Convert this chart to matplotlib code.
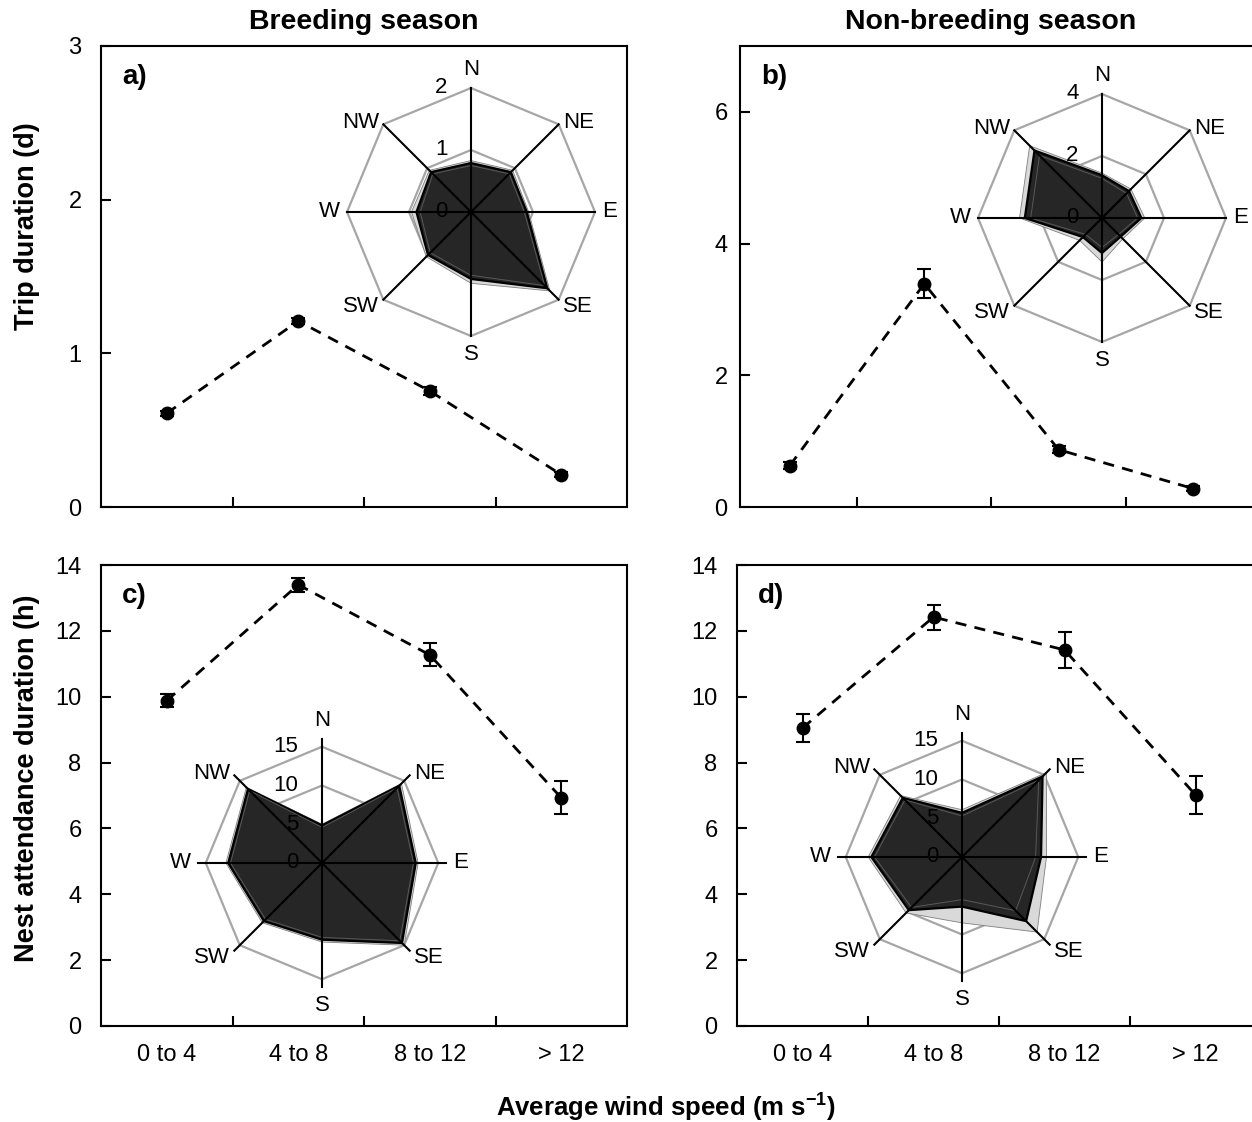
import numpy as np
import matplotlib
matplotlib.use("Agg")
import matplotlib.pyplot as plt

plt.rcParams['font.family'] = ['Liberation Sans', 'DejaVu Sans']
plt.rcParams['mathtext.fontset'] = 'custom'
plt.rcParams['mathtext.rm'] = 'Liberation Sans'
plt.rcParams['mathtext.bf'] = 'Liberation Sans:bold'

# wind speed classes
categories = ['0 to 4', '4 to 8', '8 to 12', '> 12']
directions = ['N', 'NE', 'E', 'SE', 'S', 'SW', 'W', 'NW']

# a) trip duration, breeding
trip_breed = [0.61, 1.21, 0.755, 0.21]
trip_breed_err = [0.015, 0.02, 0.025, 0.015]
# b) trip duration, non-breeding
trip_non = [0.63, 3.39, 0.87, 0.28]
trip_non_err = [0.05, 0.22, 0.05, 0.04]
# c) nest attendance, breeding
nest_breed = [9.88, 13.4, 11.27, 6.93]
nest_breed_err = [0.2, 0.22, 0.35, 0.5]
# d) nest attendance, non-breeding
nest_non = [9.05, 12.42, 11.42, 7.02]
nest_non_err = [0.42, 0.38, 0.55, 0.57]

# radar insets: mean, upper and lower bound per wind direction
radar_a_mean = [0.79, 0.91, 0.90, 1.74, 1.08, 0.98, 0.88, 0.91]
radar_a_up = [0.83, 0.95, 0.93, 1.80, 1.15, 1.02, 0.96, 0.95]
radar_a_low = [0.75, 0.87, 0.86, 1.68, 1.02, 0.93, 0.82, 0.87]

radar_b_mean = [1.38, 1.23, 1.27, 0.85, 1.13, 0.87, 2.49, 3.08]
radar_b_up = [1.45, 1.32, 1.38, 0.95, 1.42, 1.02, 2.66, 3.30]
radar_b_low = [1.28, 1.12, 1.15, 0.75, 0.95, 0.75, 2.30, 2.85]

radar_c_mean = [4.85, 14.1, 12.1, 14.6, 9.9, 10.6, 12.1, 13.5]
radar_c_up = [5.0, 14.5, 12.4, 15.0, 10.2, 10.9, 12.4, 13.8]
radar_c_low = [4.6, 13.7, 11.8, 14.2, 9.6, 10.3, 11.8, 13.2]

radar_d_mean = [5.7, 14.7, 10.2, 11.7, 6.4, 9.7, 11.7, 10.8]
radar_d_up = [6.1, 15.4, 10.9, 13.7, 8.5, 10.2, 12.1, 11.2]
radar_d_low = [5.3, 14.0, 9.5, 9.8, 5.5, 9.2, 11.3, 10.4]

W, H = 1252, 1122
fig = plt.figure(figsize=(W / 100, H / 100), dpi=100)


def px_axes(left, top, right, bottom):
    return fig.add_axes([left / W, 1 - bottom / H, (right - left) / W, (bottom - top) / H])


def line_panel(ax, vals, errs, ylim, yticks, xlim, letter, show_x, ypad):
    x = np.arange(len(vals)) + 0.5
    ax.plot(x, vals, ls=(0, (4, 3)), color='black', lw=2, zorder=2)
    ax.errorbar(x, vals, yerr=errs, fmt='o', color='black', ms=9,
                capsize=5, elinewidth=1.5, capthick=1.5, zorder=3)
    ax.set_ylim(*ylim)
    ax.set_yticks(yticks)
    ax.set_xlim(*xlim)
    ax.set_xticks([1, 2, 3])
    ax.set_xticklabels([])
    if show_x:
        ax.set_xticks(x, minor=True)
        ax.set_xticklabels(categories, minor=True)
    ax.tick_params(axis='x', which='minor', length=0, labelsize=17, pad=13)
    ax.tick_params(axis='both', which='major', direction='in', length=7,
                   width=1.5, labelsize=17)
    ax.tick_params(axis='y', pad=ypad)
    for s in ax.spines.values():
        s.set_linewidth(1.5)
    ax.annotate(letter, (0, 1), xycoords='axes fraction', xytext=(15, -22),
                textcoords='offset points', fontsize=20, fontweight='bold',
                ha='left', va='center')


def radar(cx, cy, mean, up, low, rings, ring_labels, rmax):
    size = 330
    ax = px_axes(cx - size / 2, cy - size / 2, cx + size / 2, cy + size / 2)
    ax.set_axis_off()
    lim = rmax * (size / 2) / 124
    ax.set_xlim(-lim, lim)
    ax.set_ylim(-lim, lim)
    ang = np.deg2rad(90 - 45 * np.arange(8))
    ca, sa = np.cos(ang), np.sin(ang)
    cl = np.append(ca, ca[0])
    sl = np.append(sa, sa[0])
    for r in rings:
        ax.plot(r * cl, r * sl, color='#a6a6a6', lw=1.6, zorder=1)
    up_c = np.append(up, up[0])
    mean_c = np.append(mean, mean[0])
    low_c = np.append(low, low[0])
    ax.fill(up_c * cl, up_c * sl, facecolor='#d9d9d9', edgecolor='#7f7f7f', lw=0.6, zorder=2)
    ax.fill(mean_c * cl, mean_c * sl, facecolor='#262626', edgecolor='black', lw=1.6, zorder=3)
    ax.plot(low_c * cl, low_c * sl, color='#595959', lw=0.7, zorder=4)
    for c, s in zip(ca, sa):
        ax.plot([0, rmax * c], [0, rmax * s], color='black', lw=1.5, zorder=5)
    offsets = {
        'N': ((0, 13), 'center', 'center'),
        'NE': ((3, 1), 'left', 'center'),
        'E': ((5, 0), 'left', 'center'),
        'SE': ((3, -5), 'left', 'center'),
        'S': ((0, -13), 'center', 'center'),
        'SW': ((-3, -5), 'right', 'center'),
        'W': ((-5, 0), 'right', 'center'),
        'NW': ((-3, 1), 'right', 'center'),
    }
    for d, c, s in zip(directions, ca, sa):
        off, ha, va = offsets[d]
        ax.annotate(d, (rmax * c, rmax * s), xytext=off, textcoords='offset points',
                    ha=ha, va=va, fontsize=16, zorder=6)
    for v in ring_labels:
        ax.annotate(str(v), (0, v), xytext=(-17, 0), textcoords='offset points',
                    ha='right', va='center', fontsize=16, zorder=6)


ax_a = px_axes(101, 46, 627, 507)
line_panel(ax_a, trip_breed, trip_breed_err, (0, 3), [0, 1, 2, 3], (0, 4), 'a)', False, 14)
ax_b = px_axes(740, 46, 1267, 507)
line_panel(ax_b, trip_non, trip_non_err, (0, 7), [0, 2, 4, 6], (0.129, 4.05), 'b)', False, 9)
ax_c = px_axes(101, 565, 627, 1026)
line_panel(ax_c, nest_breed, nest_breed_err, (0, 14), range(0, 15, 2), (0, 4), 'c)', True, 14)
ax_d = px_axes(737, 565, 1261, 1026)
line_panel(ax_d, nest_non, nest_non_err, (0, 14), range(0, 15, 2), (0, 4), 'd)', True, 14)

radar(471, 212, radar_a_mean, radar_a_up, radar_a_low, [1, 2], [0, 1, 2], 2)
radar(1102, 218, radar_b_mean, radar_b_up, radar_b_low, [2, 4], [0, 2, 4], 4)
radar(322, 863, radar_c_mean, radar_c_up, radar_c_low, [5, 10, 15], [0, 5, 10, 15], 16)
radar(962, 857, radar_d_mean, radar_d_up, radar_d_low, [5, 10, 15], [0, 5, 10, 15], 16)

fig.text(364 / W, 1 - 22 / H, 'Breeding season', ha='center', va='center',
         fontsize=20.5, fontweight='bold')
fig.text(991 / W, 1 - 22 / H, 'Non-breeding season', ha='center', va='center',
         fontsize=20.5, fontweight='bold')
fig.text(27 / W, 1 - 226 / H, 'Trip duration (d)', rotation=90, ha='center',
         va='center', fontsize=19.5, fontweight='bold')
fig.text(27 / W, 1 - 778 / H, 'Nest attendance duration (h)', rotation=90,
         ha='center', va='center', fontsize=19.5, fontweight='bold')
fig.text(666 / W, 1 - 1107 / H, r'Average wind speed (m s$^{\mathbf{-1}}$)',
         ha='center', va='center', fontsize=18.5, fontweight='bold')

fig.savefig('out.png', dpi=100)
